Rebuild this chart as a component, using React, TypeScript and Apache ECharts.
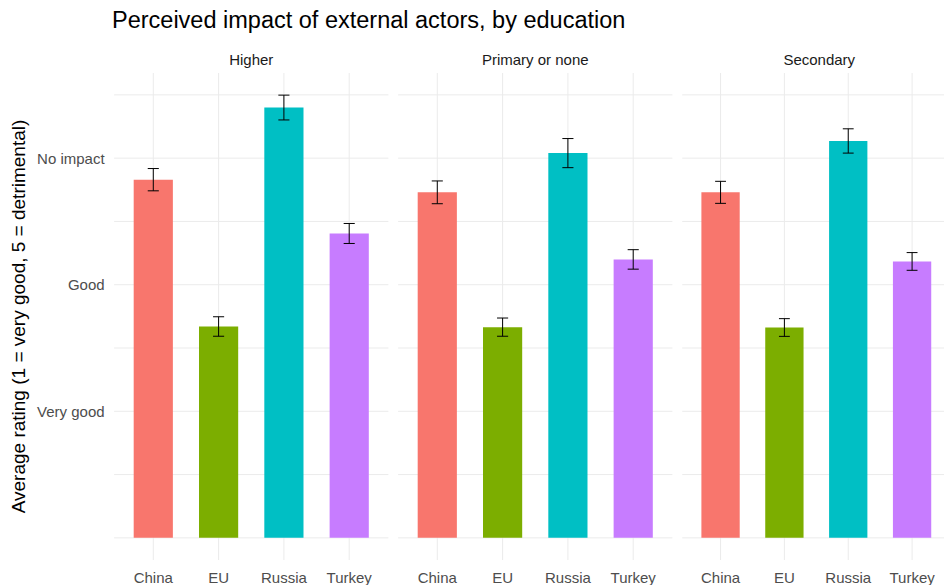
import React, { useEffect, useRef } from "react";
import * as echarts from "echarts";

// Countries shown in every panel and their fill colours
const categories = ["China", "EU", "Russia", "Turkey"];
const barColors = ["#F8766D", "#7CAE00", "#00BFC4", "#C77CFF"];

// Education groups (one facet each)
const panels = ["Higher", "Primary or none", "Secondary"];

// Mean rating and half-width of the error bar, per country
const higherMeans = [2.83, 1.67, 3.4, 2.405];
const higherErrors = [0.088, 0.077, 0.098, 0.079];
const primaryMeans = [2.73, 1.665, 3.04, 2.2];
const primaryErrors = [0.09, 0.072, 0.115, 0.077];
const secondaryMeans = [2.73, 1.662, 3.136, 2.184];
const secondaryErrors = [0.087, 0.07, 0.096, 0.07];

// Labelled rating levels on the y axis
const ratingTicks = [1, 2, 3];
const ratingLabels = ["Very good", "Good", "No impact"];
// Major and minor gridline positions
const gridValues = [0, 0.5, 1, 1.5, 2, 2.5, 3, 3.5];

const FONT = "'Liberation Sans', Arial, sans-serif";

export default function App() {
  const ref = useRef<HTMLDivElement>(null);

  useEffect(() => {
    if (!ref.current) return;
    const chart = echarts.init(ref.current, null, { renderer: "svg" });

    const means = [higherMeans, primaryMeans, secondaryMeans];
    const errors = [higherErrors, primaryErrors, secondaryErrors];

    // Shared y range: data from 0 to the highest error-bar end, padded 5% both ways
    let maxUpper = 0;
    means.forEach((m, p) =>
      m.forEach((v, i) => {
        maxUpper = Math.max(maxUpper, v + errors[p][i]);
      })
    );
    const yMin = -0.05 * maxUpper;
    const yMax = maxUpper * 1.05;

    // Panel geometry (each panel holds 4 bands plus 0.6-band padding per side)
    const panelWidth = 274.3;
    const panelLefts = [114.1, 398.1, 682.1];
    const band = panelWidth / 4.2;
    const inset = band * 0.1;
    const top = 73;
    const bottom = 585 - 560;

    const grids = panelLefts.map((l) => ({
      left: l + inset,
      width: band * 4,
      top,
      bottom,
      containLabel: false,
    }));

    const xAxes = panels.map((_, p) => ({
      type: "category" as const,
      gridIndex: p,
      data: categories,
      axisLine: { show: false },
      axisTick: { show: false },
      splitLine: { show: false },
      axisLabel: {
        color: "#4d4d4d",
        fontSize: 15,
        fontFamily: FONT,
        margin: 10,
      },
    }));

    const yAxes = panels.map((_, p) => ({
      type: "value" as const,
      gridIndex: p,
      min: yMin,
      max: yMax,
      axisLine: { show: false },
      axisTick: { show: false },
      splitLine: { show: false },
      axisLabel: {
        show: p === 0,
        customValues: ratingTicks,
        formatter: (v: number) => {
          const idx = ratingTicks.indexOf(Math.round(v));
          return idx >= 0 ? ratingLabels[idx] : "";
        },
        color: "#4d4d4d",
        fontSize: 15,
        fontFamily: FONT,
        margin: 16,
      },
    }));

    const series: any[] = [];
    panels.forEach((_, p) => {
      // horizontal gridlines spanning the whole panel
      series.push({
        type: "custom",
        xAxisIndex: p,
        yAxisIndex: p,
        silent: true,
        z: 1,
        clip: false,
        data: gridValues.map((v) => [0, v]),
        encode: { x: 0, y: 1 },
        renderItem: (params: any, api: any) => {
          const cs = params.coordSys;
          const y = api.coord([0, api.value(1)])[1];
          const pad = cs.width / 40;
          return {
            type: "line",
            shape: { x1: cs.x - pad, y1: y, x2: cs.x + cs.width + pad, y2: y },
            style: { stroke: "#ebebeb", lineWidth: 1 },
          };
        },
      });
      // vertical gridlines at each country
      series.push({
        type: "custom",
        xAxisIndex: p,
        yAxisIndex: p,
        silent: true,
        z: 1,
        clip: false,
        data: categories.map((_, i) => [i, 0]),
        encode: { x: 0, y: 1 },
        renderItem: (params: any, api: any) => {
          const cs = params.coordSys;
          const x = api.coord([api.value(0), 0])[0];
          return {
            type: "line",
            shape: { x1: x, y1: cs.y, x2: x, y2: cs.y + cs.height },
            style: { stroke: "#ebebeb", lineWidth: 1 },
          };
        },
      });
      // bars
      series.push({
        type: "bar",
        xAxisIndex: p,
        yAxisIndex: p,
        barWidth: "60%",
        z: 2,
        data: means[p].map((v, i) => ({
          value: v,
          itemStyle: { color: barColors[i] },
        })),
      });
      // error bars
      series.push({
        type: "custom",
        xAxisIndex: p,
        yAxisIndex: p,
        z: 3,
        silent: true,
        data: means[p].map((v, i) => [i, v - errors[p][i], v + errors[p][i]]),
        encode: { x: 0, y: [1, 2] },
        renderItem: (params: any, api: any) => {
          const i = api.value(0);
          const lo = api.coord([i, api.value(1)]);
          const hi = api.coord([i, api.value(2)]);
          const half = api.size([1, 0])[0] * 0.085;
          const style = { stroke: "#000000", lineWidth: 1 };
          return {
            type: "group",
            children: [
              { type: "line", shape: { x1: lo[0], y1: lo[1], x2: hi[0], y2: hi[1] }, style },
              { type: "line", shape: { x1: hi[0] - half, y1: hi[1], x2: hi[0] + half, y2: hi[1] }, style },
              { type: "line", shape: { x1: lo[0] - half, y1: lo[1], x2: lo[0] + half, y2: lo[1] }, style },
            ],
          };
        },
      });
    });

    const titles: any[] = [
      {
        text: "Perceived impact of external actors, by education",
        left: 107,
        top: 3,
        textStyle: {
          fontSize: 23.5,
          fontWeight: "normal",
          color: "#000000",
          fontFamily: FONT,
        },
      },
    ];

    const stripLabels = panels.map((name, p) => ({
      type: "text",
      x: panelLefts[p] + panelWidth / 2,
      y: 59,
      style: {
        text: name,
        fill: "#1a1a1a",
        fontSize: 15,
        fontFamily: FONT,
        textAlign: "center",
        textVerticalAlign: "middle",
      },
    }));

    chart.setOption({
      animation: false,
      backgroundColor: "#ffffff",
      title: titles,
      grid: grids,
      xAxis: xAxes,
      yAxis: yAxes,
      series,
      graphic: [
        ...stripLabels,
        {
          type: "text",
          x: 18,
          y: 316.5,
          rotation: Math.PI / 2,
          style: {
            text: "Average rating (1 = very good, 5 = detrimental)",
            fill: "#000000",
            fontSize: 19,
            fontFamily: FONT,
            textAlign: "center",
            textVerticalAlign: "middle",
          },
        },
      ],
    });

    return () => chart.dispose();
  }, []);

  return (
    <div
      ref={ref}
      style={{ position: "fixed", left: 0, top: 0, width: 944, height: 585 }}
    />
  );
}
